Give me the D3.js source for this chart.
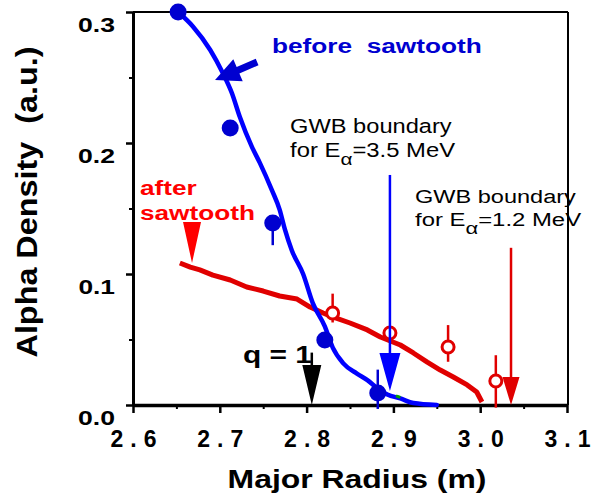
<!DOCTYPE html>
<html>
<head>
<meta charset="utf-8">
<script src="https://cdn.jsdelivr.net/npm/d3@7"></script>
<style>
  body { margin: 0; background: #fff; }
  svg { display: block; font-family: Arial, 'Liberation Sans', Helvetica, sans-serif; }
  text { white-space: pre; }
</style>
</head>
<body>
<svg id="chart" width="600" height="500"></svg>
<script>
// ---- data ----
const xTicks = [2.6, 2.7, 2.8, 2.9, 3.0, 3.1];
const xMinor = [2.65, 2.75, 2.85, 2.95, 3.05];
const yTicks = [0.0, 0.1, 0.2, 0.3];
const yMinor = [0.05, 0.15, 0.25];

// before sawtooth: fitted profile
const beforeR = [2.652, 2.669, 2.689, 2.703, 2.714, 2.723, 2.737, 2.746, 2.760, 2.769, 2.775, 2.783,
  2.796, 2.807, 2.821, 2.830, 2.842, 2.858, 2.870, 2.881, 2.893, 2.908, 2.923, 2.950];
const beforeD = [0.300, 0.289, 0.271, 0.254, 0.238, 0.220, 0.197, 0.185, 0.164, 0.149, 0.134, 0.118,
  0.100, 0.078, 0.060, 0.044, 0.032, 0.024, 0.019, 0.013, 0.008, 0.005, 0.0015, 0.000];

// before sawtooth: measured points (filled), error bar low/high (null = none)
const beforePtR = [2.652, 2.712, 2.761, 2.821, 2.882];
const beforePtD = [0.300, 0.2115, 0.139, 0.0496, 0.0092];
const beforeErrLo = [null, null, 0.122, null, -0.003];
const beforeErrHi = [null, null, 0.139, null, 0.027];

// after sawtooth: stepped profile
const afterR = [2.654, 2.666, 2.677, 2.692, 2.712, 2.731, 2.750, 2.769, 2.789, 2.804, 2.819, 2.830,
  2.850, 2.870, 2.885, 2.908, 2.923, 2.939, 2.954, 2.969, 2.985, 2.996, 3.002];
const afterD = [0.1084, 0.1053, 0.1031, 0.0992, 0.0954, 0.0901, 0.0870, 0.0832, 0.0809, 0.0748, 0.0702, 0.0672,
  0.0626, 0.0573, 0.0519, 0.0458, 0.0397, 0.0328, 0.0267, 0.0214, 0.0153, 0.0099, 0.0023];

// after sawtooth: measured points (open)
const afterPtR = [2.830, 2.896, 2.963, 3.018];
const afterPtD = [0.0702, 0.055, 0.0443, 0.0183];
const afterErrLo = [0.063, null, 0.033, -0.002];
const afterErrHi = [0.085, null, 0.061, 0.038];

// small green mark near the axis
const greenR = [2.903, 2.908];
const greenD = [0.0070, 0.0058];

// arrows: [R1, D1, R2, D2]  (tail -> tip)
const beforeArrow = [2.743, 0.2618, 2.6945, 0.2481];
const afterArrow = [2.668, 0.1397, 2.668, 0.1084];
const gwb35Arrow = [2.896, 0.1756, 2.896, 0.0107];
const gwb12Arrow = [3.0355, 0.120, 3.0355, 0.0];
const q1Arrow = [2.806, 0.040, 2.806, 0.0];

// ---- layout ----
const svg = d3.select('#chart');
const margin = { top: 12, right: 33, bottom: 95, left: 133 };
const width = 600, height = 500;

const x = d3.scaleLinear().domain([2.6, 3.1]).range([margin.left, width - margin.right]);
const y = d3.scaleLinear().domain([0, 0.3]).range([height - margin.bottom, margin.top]);

const blue = '#0000ff';
const blueDark = '#0000d0';
const redLine = '#e00000';
const red = '#ff0000';

// fit a text element horizontally to a target width
function stretch(sel, tx, ty, targetW, extra = '') {
  const w = sel.node().getBBox().width;
  const sx = targetW / w;
  sel.attr('transform', `translate(${tx},${ty}) ${extra} scale(${sx},1)`);
}

// ---- frame ----
svg.append('line')
  .attr('x1', x(2.6)).attr('x2', x(3.1) + 1)
  .attr('y1', y(0.3)).attr('y2', y(0.3))
  .attr('stroke', '#000').attr('stroke-width', 2);
svg.append('line')
  .attr('x1', x(3.1) + 1).attr('x2', x(3.1) + 1)
  .attr('y1', y(0.3)).attr('y2', y(0))
  .attr('stroke', '#000').attr('stroke-width', 2);

// ---- axes ----
const gx = svg.append('g')
  .attr('transform', `translate(0,${y(0)})`)
  .call(d3.axisBottom(x).tickValues(xTicks).tickSize(8).tickSizeOuter(0).tickFormat(d3.format('.1f')));
gx.select('.domain').attr('stroke-width', 3.5);
gx.selectAll('.tick line').attr('stroke-width', 2.5);
gx.selectAll('.tick text')
  .attr('y', 42).attr('dy', 0).attr('dx', 3.5)
  .attr('font-size', 23).attr('font-weight', 'bold')
  .attr('letter-spacing', 7)
  .attr('font-family', "Arial, 'Liberation Sans', sans-serif");

svg.append('g')
  .attr('transform', `translate(0,${y(0)})`)
  .call(d3.axisBottom(x).tickValues(xMinor).tickSize(4).tickFormat(''))
  .call(g => g.select('.domain').remove())
  .selectAll('.tick line').attr('stroke-width', 2);

const gy = svg.append('g')
  .attr('transform', `translate(${x(2.6)},0)`)
  .call(d3.axisLeft(y).tickValues(yTicks).tickSize(7).tickSizeOuter(0).tickFormat(d3.format('.1f')));
gy.select('.domain').attr('stroke-width', 3);
gy.selectAll('.tick line').attr('stroke-width', 2.5);
gy.selectAll('.tick text')
  .attr('x', 0).attr('dy', 0)
  .attr('font-size', 21).attr('font-weight', 'bold')
  .attr('font-family', "Arial, 'Liberation Sans', sans-serif")
  .each(function () { stretch(d3.select(this), -18, 19, 37); });

svg.append('g')
  .attr('transform', `translate(${x(2.6)},0)`)
  .call(d3.axisLeft(y).tickValues(yMinor).tickSize(4).tickFormat(''))
  .call(g => g.select('.domain').remove())
  .selectAll('.tick line').attr('stroke-width', 2);

// axis titles
const xt = svg.append('text')
  .attr('text-anchor', 'middle').attr('font-size', 25).attr('font-weight', 'bold')
  .text('Major Radius (m)');
stretch(xt, (x(2.6) + x(3.1)) / 2 + 7, 488, 259);

const yt = svg.append('text')
  .attr('text-anchor', 'middle').attr('font-size', 29).attr('font-weight', 'bold')
  .text('Alpha Density  (a.u.)');
stretch(yt, 37, 202, 311, 'rotate(-90)');

// ---- curves ----
const lineOf = (rs, ds, curve) => d3.line().curve(curve)
  .x(i => x(rs[i])).y(i => y(ds[i]))(d3.range(rs.length));

svg.append('path')
  .attr('d', lineOf(afterR, afterD, d3.curveLinear))
  .attr('fill', 'none').attr('stroke', redLine).attr('stroke-width', 5)
  .attr('stroke-linejoin', 'round');

svg.append('path')
  .attr('d', lineOf(beforeR, beforeD, d3.curveMonotoneX))
  .attr('fill', 'none').attr('stroke', blue).attr('stroke-width', 4.5)
  .attr('stroke-linecap', 'round');

svg.append('path')
  .attr('d', lineOf(greenR, greenD, d3.curveLinear))
  .attr('fill', 'none').attr('stroke', '#00a000').attr('stroke-width', 3);

// ---- error bars + points ----
beforePtR.forEach((r, i) => {
  if (beforeErrLo[i] !== null) {
    svg.append('line')
      .attr('x1', x(r)).attr('x2', x(r))
      .attr('y1', y(beforeErrLo[i])).attr('y2', y(beforeErrHi[i]))
      .attr('stroke', blueDark).attr('stroke-width', 2.5);
  }
});
svg.append('g').selectAll('circle')
  .data(d3.range(beforePtR.length))
  .join('circle')
  .attr('cx', i => x(beforePtR[i])).attr('cy', i => y(beforePtD[i]))
  .attr('r', 8.5).attr('fill', blueDark);

afterPtR.forEach((r, i) => {
  if (afterErrLo[i] !== null) {
    svg.append('line')
      .attr('x1', x(r)).attr('x2', x(r))
      .attr('y1', y(afterErrLo[i])).attr('y2', y(afterErrHi[i]))
      .attr('stroke', redLine).attr('stroke-width', 2.5);
  }
});
svg.append('g').selectAll('circle')
  .data(d3.range(afterPtR.length))
  .join('circle')
  .attr('cx', i => x(afterPtR[i])).attr('cy', i => y(afterPtD[i]))
  .attr('r', 6).attr('fill', '#fff')
  .attr('stroke', redLine).attr('stroke-width', 3);

// ---- arrows ----
function arrowPoints(a, shaftW, headL, headW) {
  const x1 = x(a[0]), y1 = y(a[1]), x2 = x(a[2]), y2 = y(a[3]);
  const len = Math.hypot(x2 - x1, y2 - y1);
  const ux = (x2 - x1) / len, uy = (y2 - y1) / len;
  const px = -uy, py = ux;
  const bx = x2 - ux * headL, by = y2 - uy * headL;
  const pts = [
    [x1 + px * shaftW, y1 + py * shaftW],
    [bx + px * shaftW, by + py * shaftW],
    [bx + px * headW, by + py * headW],
    [x2, y2],
    [bx - px * headW, by - py * headW],
    [bx - px * shaftW, by - py * shaftW],
    [x1 - px * shaftW, y1 - py * shaftW]
  ];
  return pts.map(p => p.join(',')).join(' ');
}

function lineArrow(a, color, lineW, headL, headW) {
  const x1 = x(a[0]), y1 = y(a[1]), x2 = x(a[2]), y2 = y(a[3]);
  svg.append('line')
    .attr('x1', x1).attr('y1', y1).attr('x2', x2).attr('y2', y2 - headL + 2)
    .attr('stroke', color).attr('stroke-width', lineW);
  svg.append('polygon')
    .attr('points', arrowPoints(a, 0, headL, headW))
    .attr('fill', color);
}

svg.append('polygon')
  .attr('points', arrowPoints(beforeArrow, 3.5, 25, 12))
  .attr('fill', blueDark);
svg.append('polygon')
  .attr('points', arrowPoints(afterArrow, 0, 41, 9))
  .attr('fill', red);

lineArrow(gwb35Arrow, blue, 2.5, 38, 10.5);
lineArrow(gwb12Arrow, redLine, 2.5, 28, 8.5);
lineArrow(q1Arrow, '#000', 2.5, 40, 9.5);

// ---- annotations ----
function note(r, d, targetW, size, weight, color, build) {
  const t = svg.append('text')
    .attr('font-size', size).attr('font-weight', weight).attr('fill', color);
  build(t);
  stretch(t, x(r), y(d), targetW);
  return t;
}

note(2.760, 0.2687, 210, 20, 'bold', blueDark, t => t.text('before  sawtooth'));
note(2.608, 0.1603, 57, 20, 'bold', red, t => t.text('after'));
note(2.608, 0.1412, 115, 20, 'bold', red, t => t.text('sawtooth'));
note(2.7267, 0.0321, 69, 24, 'bold', '#000', t => t.text('q = 1'));

const subLine = (t, rest) => {
  t.append('tspan').text('for E');
  t.append('tspan').attr('dy', 8).attr('font-size', 17).text('α');
  t.append('tspan').attr('dy', -8).text(rest);
};
note(2.781, 0.2076, 162, 19.5, 'normal', '#000', t => t.text('GWB boundary'));
note(2.781, 0.1893, 165, 19.5, 'normal', '#000', t => subLine(t, '=3.5 MeV'));
note(2.9249, 0.1542, 162, 18.5, 'normal', '#000', t => t.text('GWB boundary'));
note(2.9249, 0.1366, 167, 18.5, 'normal', '#000', t => subLine(t, '=1.2 MeV'));
</script>
</body>
</html>
